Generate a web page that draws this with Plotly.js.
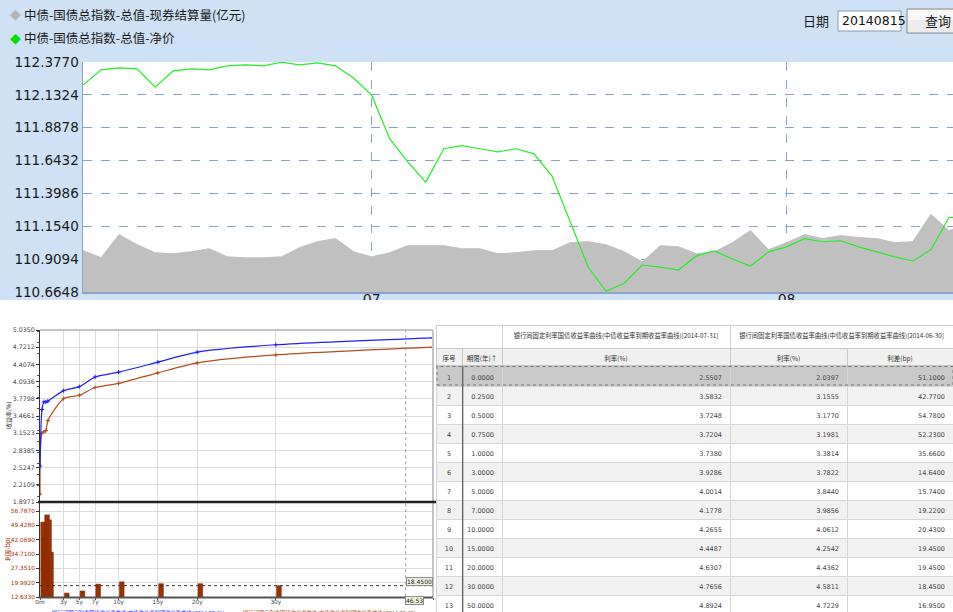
<!DOCTYPE html>
<html>
<head>
<meta charset="utf-8">
<script src="https://cdn.plot.ly/plotly-3.0.1.min.js"></script>
<style>
html,body{margin:0;padding:0;background:#fff;width:953px;height:612px;overflow:hidden;}
.box{position:absolute;overflow:hidden;}
</style>
</head>
<body>
<div id="top" class="box" style="left:0;top:0;width:953px;height:300px;"></div>
<div id="curve" class="box" style="left:0;top:320px;width:436px;height:292px;"></div>
<div id="tbl" class="box" style="left:436px;top:320px;width:517px;height:292px;"></div>
<script>
// ---------------- DATA ----------------
const tradeDates = [
 '2014-06-09','2014-06-10','2014-06-11','2014-06-12','2014-06-13','2014-06-16','2014-06-17','2014-06-18',
 '2014-06-19','2014-06-20','2014-06-23','2014-06-24','2014-06-25','2014-06-26','2014-06-27','2014-06-30',
 '2014-07-01','2014-07-02','2014-07-03','2014-07-04','2014-07-07','2014-07-08','2014-07-09','2014-07-10',
 '2014-07-11','2014-07-14','2014-07-15','2014-07-16','2014-07-17','2014-07-18','2014-07-21','2014-07-22',
 '2014-07-23','2014-07-24','2014-07-25','2014-07-28','2014-07-29','2014-07-30','2014-07-31',
 '2014-08-01','2014-08-04','2014-08-05','2014-08-06','2014-08-07','2014-08-08','2014-08-11','2014-08-12',
 '2014-08-13','2014-08-14','2014-08-15'];
const netPrice = [
 112.2054,112.3183,112.3333,112.3258,112.1903,112.3108,112.3258,112.3183,
 112.3484,112.3559,112.3484,112.3750,112.3559,112.3710,112.3484,112.2581,
 112.1301,111.8065,111.6334,111.4829,111.7312,111.7538,111.7312,111.7087,
 111.7312,111.6936,111.5280,111.1894,110.8507,110.6701,110.7303,110.8657,
 110.8507,110.8281,110.9335,110.9711,110.9109,110.8582,110.9636,
 111.0012,111.0614,111.0388,111.0463,111.0012,110.9636,110.9260,110.8958,
 110.9786,111.2195,111.2195];
const settleVolume = [
 205,170,284,234,194,189,199,214,
 174,169,169,174,219,249,264,199,
 174,194,229,229,229,214,214,189,
 194,204,204,244,249,234,199,149,
 229,224,189,199,244,304,209,
 244,284,264,279,269,264,244,249,
 384,304,329];
const seriesNames = ['中债-国债总指数-总值-现券结算量(亿元)','中债-国债总指数-总值-净价'];
const priceTicks = [110.6648,110.9094,111.1540,111.3986,111.6432,111.8878,112.1324,112.3770];
const monthTickDates = ['2014-07-01','2014-08-01'];
const monthTickText = ['07','08'];
const dateLabel = '日期';
const queryDate = '20140815';
const queryButton = '查询';

const tenors = [0,0.25,0.5,0.75,1,3,5,7,10,15,20,30,50];
const rate0731 = [2.5507,3.5832,3.7248,3.7204,3.7380,3.9286,4.0014,4.1778,4.2655,4.4487,4.6307,4.7656,4.8924];
const rate0630 = [2.0397,3.1555,3.1770,3.1981,3.3814,3.7822,3.8440,3.9856,4.0612,4.2542,4.4362,4.5811,4.7229];
const spreadBp = [51.1000,42.7700,54.7800,52.2300,35.6600,14.6400,15.7400,19.2200,20.4300,19.4500,19.4500,18.4500,16.9500];
const serialNo = [1,2,3,4,5,6,7,8,9,10,11,12,13];
const tenorTickVals = [0,3,5,7,10,15,20,30,50];
const tenorTickText = ['0m','3y','5y','7y','10y','15y','20y','30y','50y'];
const yieldTicks = [1.8971,2.2109,2.5247,2.8385,3.1523,3.4661,3.7798,4.0936,4.4074,4.7212,5.0350];
const spreadTicks = [12.6330,19.9920,27.3510,34.7100,42.0690,49.4280,56.7870];
const curveNames = ['银行间固定利率国债收益率曲线(中债收益率到期收益率曲线)[2014-07-31]',
                    '银行间固定利率国债收益率曲线(中债收益率到期收益率曲线)[2014-06-30]'];
const tableHead = ['序号','期限(年)↑','利率(%)','利率(%)','利差(bp)'];
const crossX = 46.53, crossXText = '46.53', crossY = 18.45, crossYText = '18.4500';

const CJK = '"Noto Sans CJK SC", "DejaVu Sans", sans-serif';
const NUM = '"DejaVu Sans", sans-serif';

// ---------------- TOP CHART ----------------
(function(){
  const L=83,R=953,T=62,B=292;
  const xp = px => (px-L)/(R-L), yp = py => (B-py)/(B-T);
  const traces = [
    {x:tradeDates, y:settleVolume, type:'scatter', mode:'lines', fill:'tozeroy',
     fillcolor:'#c0c0c0', line:{color:'#c0c0c0',width:1}, yaxis:'y', xaxis:'x', name:seriesNames[0], hoverinfo:'skip'},
    {x:tradeDates, y:netPrice, type:'scatter', mode:'lines',
     line:{color:'#22ee22',width:1.2}, yaxis:'y2', xaxis:'x', name:seriesNames[1]}
  ];
  const ann = [];
  const legendY = [14,38], legendCol = ['#b4b4b4','#00e000'];
  seriesNames.forEach((n,i)=>{
    ann.push({xref:'paper',yref:'paper',x:xp(8),y:yp(legendY[i]),xanchor:'left',yanchor:'middle',
      text:'◆',showarrow:false,font:{family:NUM,size:14,color:legendCol[i]}});
    ann.push({xref:'paper',yref:'paper',x:xp(22),y:yp(legendY[i]),xanchor:'left',yanchor:'middle',
      text:n,showarrow:false,font:{family:CJK,size:12.5,color:'#1a1a1a'}});
  });
  ann.push({xref:'paper',yref:'paper',x:xp(831),y:yp(21),xanchor:'right',yanchor:'middle',
    text:dateLabel,showarrow:false,font:{family:CJK,size:13,color:'#1a1a1a'}});
  ann.push({xref:'paper',yref:'paper',x:xp(840),y:yp(21),xanchor:'left',yanchor:'middle',
    text:queryDate,showarrow:false,font:{family:NUM,size:12.5,color:'#111'}});
  ann.push({xref:'paper',yref:'paper',x:xp(938),y:yp(21),xanchor:'center',yanchor:'middle',
    text:queryButton,showarrow:false,font:{family:CJK,size:13,color:'#1a1a1a'}});
  const shapes = [
    {type:'rect',xref:'paper',yref:'paper',x0:xp(838),x1:xp(901),y0:yp(11),y1:yp(31),
     fillcolor:'#ffffff',line:{color:'#7f9db9',width:1}},
    {type:'rect',xref:'paper',yref:'paper',x0:xp(907),x1:xp(975),y0:yp(9),y1:yp(33),
     fillcolor:'#ececec',line:{color:'#8a8a8a',width:1}},
    {type:'rect',xref:'paper',yref:'paper',x0:xp(908),x1:xp(974),y0:yp(10),y1:yp(20),
     fillcolor:'#f7f7f7',line:{width:0}}
  ];
  const layout = {
    width:953, height:318, margin:{l:L,r:0,t:T,b:318-B},
    paper_bgcolor:'#cfe1f5', plot_bgcolor:'#ffffff', showlegend:false,
    font:{family:NUM,size:14,color:'#1a1a1a'},
    xaxis:{type:'category', range:[0,(R-L)/18.04], tickvals:monthTickDates, ticktext:monthTickText,
      showgrid:true, gridcolor:'#86a5cc', griddash:'dash', gridwidth:1,
      showline:true, linecolor:'#8aa3c6', linewidth:1.5, ticks:'', zeroline:false, ticklabelstandoff:-6,
      tickfont:{family:NUM,size:14,color:'#1a1a1a'}},
    yaxis:{range:[0,1137.5], visible:false, fixedrange:true},
    yaxis2:{overlaying:'y', side:'left', range:[110.6648,112.3770], tickvals:priceTicks,
      ticktext:priceTicks.map(v=>v.toFixed(4)), showgrid:true, gridcolor:'#86a5cc', griddash:'dash',
      showline:true, linecolor:'#8aa3c6', linewidth:1.5, ticks:'', zeroline:false,
      tickfont:{family:NUM,size:13.5,color:'#1a1a1a'}},
    annotations:ann, shapes:shapes
  };
  Plotly.newPlot('top', traces, layout, {staticPlot:true});
})();

// ---------------- YIELD CURVE + SPREAD BARS ----------------
(function(){
  const L=40,R=433,T=10,B=277, H=292;
  const xp = px => (px-L)/(R-L), yp = fy => (B-fy)/(B-T);
  const traces = [
    {x:tenors, y:rate0630, type:'scatter', mode:'lines+markers', line:{color:'#b24e1c',width:1.2,shape:'spline',smoothing:0.7},
     marker:{size:3,color:'#b24e1c',symbol:'cross-thin',line:{width:1,color:'#b24e1c'}}, xaxis:'x', yaxis:'y', name:curveNames[1]},
    {x:tenors, y:rate0731, type:'scatter', mode:'lines+markers', line:{color:'#1f1fff',width:1.2,shape:'spline',smoothing:0.7},
     marker:{size:3,color:'#1f1fff',symbol:'cross-thin',line:{width:1,color:'#1f1fff'}}, xaxis:'x', yaxis:'y', name:curveNames[0]},
    {x:tenors, type:'bar', width:0.6, offset:0.1, base:12.633,
     y: spreadBp.map(v=>v-12.633), marker:{color:'#9a3100',line:{color:'#7a2600',width:0.5}},
     xaxis:'x2', yaxis:'y2', name:'利差(bp)'}
  ];
  const ax = {showline:false, zeroline:false, ticks:'', showgrid:true, gridcolor:'#dcdcdc', gridwidth:1};
  const shapes = [
    {type:'line',xref:'paper',yref:'paper',x0:0,x1:1,y0:1,y1:1,line:{color:'#c4c4c4',width:2}},
    {type:'line',xref:'paper',yref:'paper',x0:1,x1:1,y0:0,y1:1,line:{color:'#c4c4c4',width:2}},
    {type:'line',xref:'paper',yref:'paper',x0:xp(38),x1:xp(436),y0:yp(182),y1:yp(182),line:{color:'#222',width:2.5}},
    {type:'line',xref:'paper',yref:'paper',x0:xp(38),x1:xp(433),y0:yp(277.5),y1:yp(277.5),line:{color:'#555',width:2}},
    {type:'line',xref:'x',yref:'paper',x0:crossX,x1:crossX,y0:-0.02,y1:1,line:{color:'#9a9a9a',width:1,dash:'dot'}},
    {type:'line',xref:'x2',yref:'y2',x0:0,x1:50,y0:crossY,y1:crossY,line:{color:'#333',width:1,dash:'dot'}}
  ];
  const ann = [
    {xref:'paper',yref:'paper',x:xp(8),y:yp(95),xanchor:'center',yanchor:'middle',text:'收益率(%)',textangle:-90,showarrow:false,
     font:{family:CJK,size:6,color:'#333'}},
    {xref:'paper',yref:'paper',x:xp(7),y:yp(230),xanchor:'center',yanchor:'middle',text:'利差(bp)',textangle:-90,showarrow:false,
     font:{family:CJK,size:6,color:'#a03000'}},
    {xref:'paper',yref:'paper',x:xp(406),y:yp(261.5),xanchor:'left',yanchor:'middle',text:crossYText,showarrow:false,
     bgcolor:'#f2f2e4',bordercolor:'#8a8a8a',borderwidth:1,borderpad:0,font:{family:NUM,size:6,color:'#222'}},
    {xref:'paper',yref:'paper',x:xp(405),y:yp(280.5),xanchor:'left',yanchor:'middle',text:crossXText,showarrow:false,
     bgcolor:'#f2f2e4',bordercolor:'#8a8a8a',borderwidth:1,borderpad:0,font:{family:NUM,size:6,color:'#222'}},
    {xref:'paper',yref:'paper',x:xp(50),y:yp(286.5),xanchor:'left',yanchor:'top',text:curveNames[0],showarrow:false,
     font:{family:CJK,size:5.3,color:'#2b2bff'}},
    {xref:'paper',yref:'paper',x:xp(241),y:yp(286.5),xanchor:'left',yanchor:'top',text:curveNames[1],showarrow:false,
     font:{family:CJK,size:5.3,color:'#b24e1c'}}
  ];
  const layout = {
    width:436, height:H, margin:{l:L,r:436-R,t:T,b:H-B},
    paper_bgcolor:'#ffffff', plot_bgcolor:'#ffffff', showlegend:false,
    xaxis:Object.assign({},ax,{anchor:'y', range:[0,50], tickvals:[3,5,7,10,15,20,30], showticklabels:false}),
    yaxis:Object.assign({},ax,{domain:[(B-182)/(B-T),1], range:[1.8971,5.0350], tickvals:yieldTicks,
      ticktext:yieldTicks.map(v=>v.toFixed(4)), tickfont:{family:NUM,size:6.3,color:'#444'},
      showline:true, linecolor:'#333', linewidth:1, ticks:'outside', ticklen:3, tickcolor:'#333',
      minor:{ticks:'outside',ticklen:2,nticks:5,tickcolor:'#555',showgrid:false}}),
    xaxis2:Object.assign({},ax,{anchor:'y2', range:[0,50], tickvals:tenorTickVals, ticktext:tenorTickText,
      tickfont:{family:NUM,size:5.8,color:'#444'}, ticks:'outside', ticklen:2, tickcolor:'#555', ticklabelstandoff:-3}),
    yaxis2:Object.assign({},ax,{domain:[0,(B-183)/(B-T)], range:[12.633,60.9], tickvals:spreadTicks,
      ticktext:spreadTicks.map(v=>v.toFixed(4)), tickfont:{family:NUM,size:5.8,color:'#a03000'},
      showline:true, linecolor:'#333', linewidth:1, ticks:'outside', ticklen:3, tickcolor:'#333'}),
    shapes:shapes, annotations:ann, bargap:0
  };
  Plotly.newPlot('curve', traces, layout, {staticPlot:true});
})();

// ---------------- TABLE ----------------
(function(){
  const W=517, H=300;
  const yd = py => 1 - (py-320)/H;
  const rowFill = serialNo.map((s,i)=> i===0 ? '#c9c9c9' : (i%2===1 ? '#f1f1f1' : '#ffffff'));
  const cols = [serialNo, tenors, rate0731, rate0630, spreadBp];
  const traces = [
    {type:'table', domain:{x:[0,1], y:[yd(612), yd(325)]}, columnwidth:[66,228,223],
     header:{values:['', curveNames[0], curveNames[1]], height:23, align:'center',
       fill:{color:'#ffffff'}, line:{color:'#cfcfcf',width:1}, font:{family:CJK,size:6.3,color:'#333'}},
     cells:{values:[[],[],[]], height:19, line:{color:'rgba(0,0,0,0)'}, fill:{color:'rgba(0,0,0,0)'}}},
    {type:'table', domain:{x:[0,1], y:[0, yd(348)]}, columnwidth:[26,40,228,117,106],
     header:{values:tableHead, height:19, align:'center', fill:{color:'#f0f0f0'},
       line:{color:'#c8c8c8',width:1}, font:{family:CJK,size:6.5,color:'#333'}},
     cells:{values:cols, height:19, align:['center','right','right','right','right'],
       format:['', '.4f', '.4f', '.4f', '.4f'],
       fill:{color:cols.map(()=>rowFill)}, line:{color:'#d6d6d6',width:1},
       font:{family:NUM,size:6.5,color:'#444'}}}
  ];
  const px = x => (x-436)/W;
  const shapes = [
    {type:'line',xref:'paper',yref:'paper',x0:px(462.7),x1:px(462.7),y0:0,y1:yd(366),line:{color:'#555',width:1.2}},
    {type:'line',xref:'paper',yref:'paper',x0:0,x1:1,y0:yd(366),y1:yd(366),line:{color:'#9a9a9a',width:1.2}},
    {type:'rect',xref:'paper',yref:'paper',x0:px(437),x1:px(953),y0:yd(385),y1:yd(366.5),
     line:{color:'#777',width:1,dash:'dot'}}
  ];
  const layout = {width:W, height:H, margin:{l:0,r:0,t:0,b:0}, paper_bgcolor:'#ffffff', shapes:shapes};
  Plotly.newPlot('tbl', traces, layout, {staticPlot:true});
})();
</script>
</body>
</html>
